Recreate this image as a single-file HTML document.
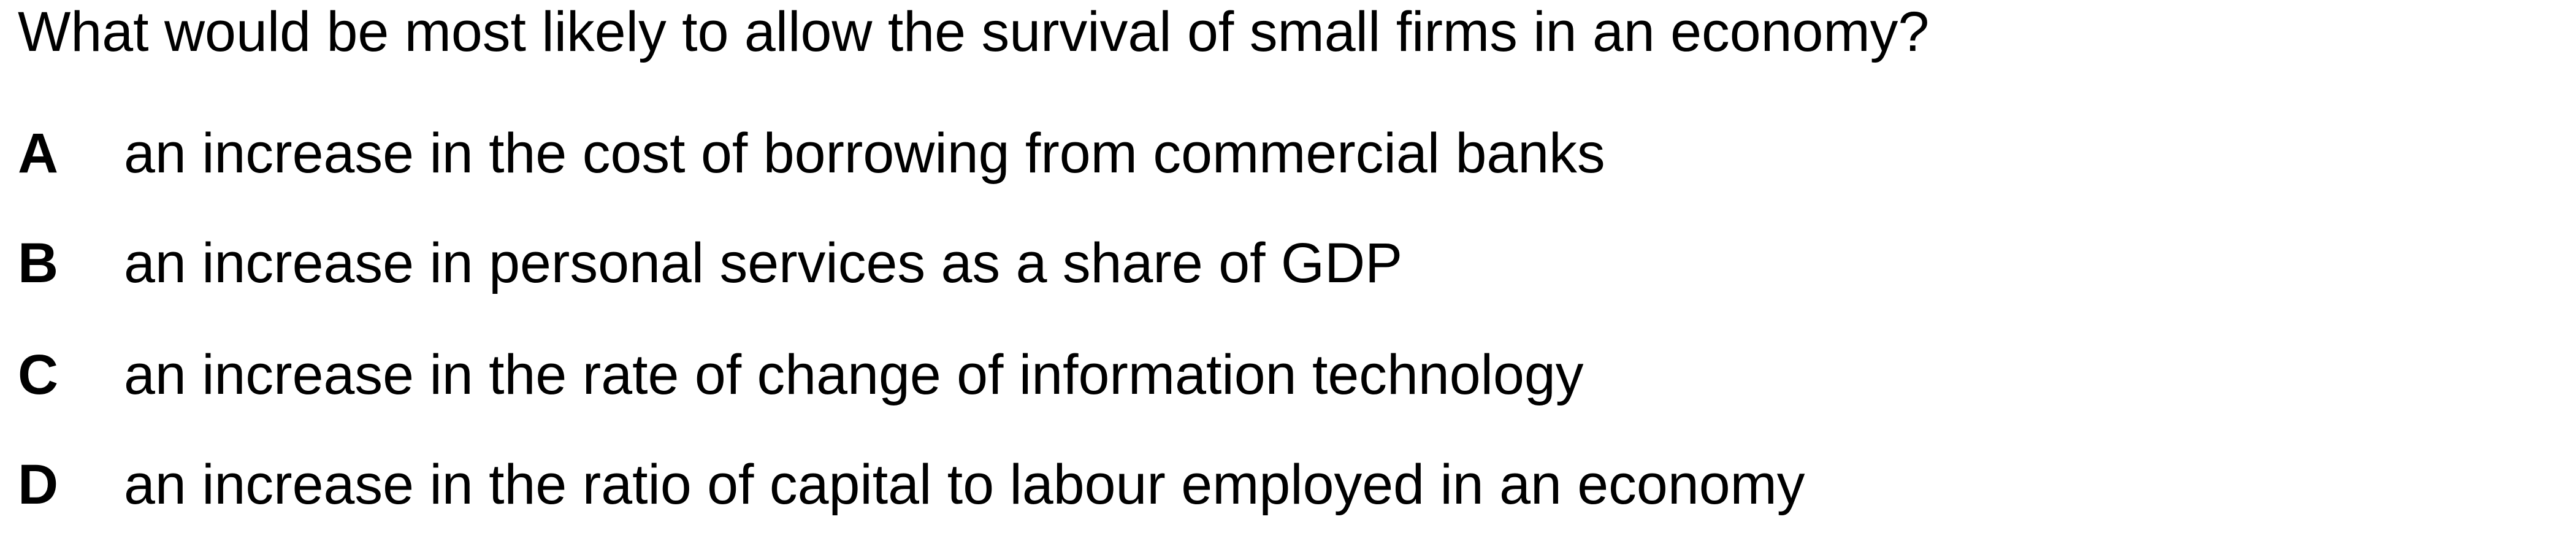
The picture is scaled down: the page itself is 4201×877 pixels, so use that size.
<!DOCTYPE html>
<html><head><meta charset="utf-8"><style>
html,body{margin:0;padding:0;background:#fff;}
body{width:4201px;height:877px;position:relative;overflow:hidden;font-family:"Liberation Sans",Arial,sans-serif;color:#000;}
.t{position:absolute;font-size:91.5px;line-height:1;white-space:nowrap;}
.l{font-weight:bold;left:29px;}
.o{left:202px;}
</style></head><body>
<div class="t" style="left:29px;top:7px">What would be most likely to allow the survival of small firms in an economy?</div>
<div>
<div class="t l" style="top:205px">A</div>
<div class="t o" style="top:205px">an increase in the cost of borrowing from commercial banks</div></div>
<div>
<div class="t l" style="top:384px">B</div>
<div class="t o" style="top:384px">an increase in personal services as a share of GDP</div></div>
<div>
<div class="t l" style="top:566px">C</div>
<div class="t o" style="top:566px">an increase in the rate of change of information technology</div></div>
<div>
<div class="t l" style="top:745px">D</div>
<div class="t o" style="top:745px">an increase in the ratio of capital to labour employed in an economy</div></div>
</body></html>
